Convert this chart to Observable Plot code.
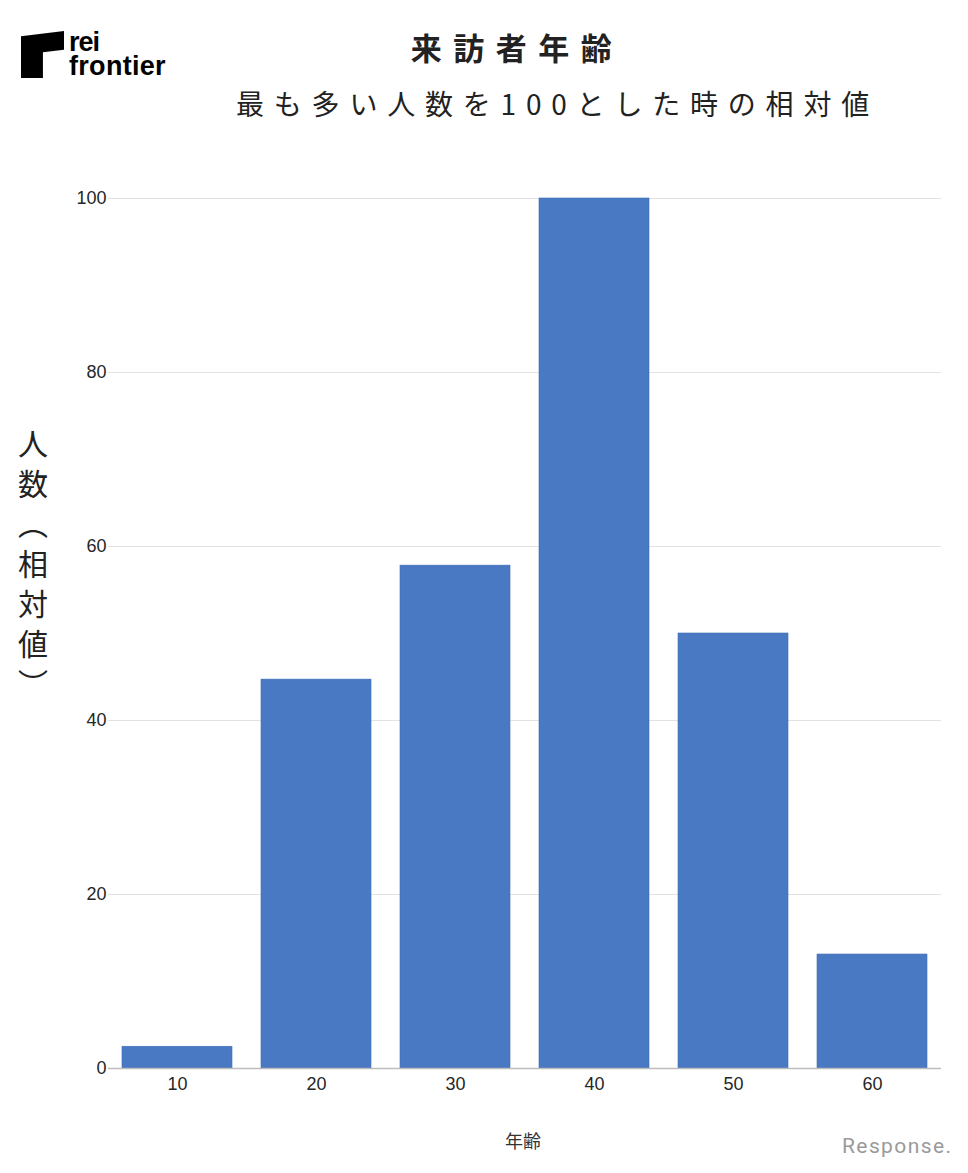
<!DOCTYPE html>
<html><head><meta charset="utf-8">
<script src="https://cdn.jsdelivr.net/npm/d3@7"></script>
<script src="https://cdn.jsdelivr.net/npm/@observablehq/plot@0.6"></script>
<style>
html,body{margin:0;padding:0;background:#fff;}
#wrap{position:relative;width:968px;height:1173px;overflow:hidden;font-family:"Noto Sans CJK JP","Noto Sans",sans-serif;}
#chart{position:absolute;left:0;top:0;}
.abs{position:absolute;white-space:nowrap;}
#title{left:0;width:1034px;top:24px;text-align:center;font-size:31px;font-weight:700;letter-spacing:11.5px;color:#222;}
#subtitle{left:236px;top:83px;font-size:28px;letter-spacing:9.8px;color:#222;font-weight:400;}
#ylabel{left:11px;top:429px;writing-mode:vertical-rl;font-size:30px;letter-spacing:10px;color:#222;}
#xlabel{left:0;width:1046px;top:1127px;text-align:center;font-size:18px;color:#333;}
#logo-mark{left:21px;top:31px;width:43px;height:47px;background:#000;clip-path:polygon(0 11%,100% 0,100% 40%,51% 45%,51% 100%,0 100%);}
#logo-rei{left:69px;top:30.5px;font-family:"Liberation Sans",Arial,sans-serif;font-weight:700;font-size:27px;line-height:22px;letter-spacing:-1px;color:#000;}
#logo-fr{left:69px;top:54.5px;font-family:"Liberation Sans",Arial,sans-serif;font-weight:700;font-size:27px;line-height:22px;letter-spacing:0.3px;color:#000;}
#resp{left:842px;top:1134px;font-family:"Roboto","Liberation Sans",sans-serif;font-size:21px;color:#9a9a9a;letter-spacing:1.4px;}
</style></head>
<body><div id="wrap">
<div id="chart"></div>
<div class="abs" id="logo-mark"></div>
<div class="abs" id="logo-rei">rei</div>
<div class="abs" id="logo-fr">frontier</div>
<div class="abs" id="title">来訪者年齢</div>
<div class="abs" id="subtitle">最も多い人数を100とした時の相対値</div>
<div class="abs" id="ylabel">人数（相対値）</div>
<div class="abs" id="xlabel">年齢</div>
<div class="abs" id="resp">Response.</div>
</div>
<script>
const ages = ["10", "20", "30", "40", "50", "60"];
const values = [2.5, 44.7, 57.8, 100, 50, 13.1];
const yTicks = [0, 20, 40, 60, 80, 100];
const data = ages.map((a, i) => ({age: a, value: values[i]}));

const chart = Plot.plot({
  width: 968,
  height: 1173,
  marginLeft: 108,
  marginRight: 27,
  marginTop: 198,
  marginBottom: 105,
  style: {fontFamily: "'Liberation Sans', Arial, sans-serif", fontSize: "18px", color: "#262626", background: "transparent"},
  x: {domain: ages, paddingInner: 0.21, paddingOuter: 0.1, label: null},
  y: {domain: [0, 100], label: null},
  marks: [
    Plot.gridY(yTicks, {stroke: "#e2e2e2", strokeOpacity: 1}),
    Plot.axisY(yTicks, {tickSize: 0, tickPadding: 2, fontSize: 18, label: null}),
    Plot.axisX({tickSize: 0, tickPadding: 9, fontSize: 18, label: null}),
    Plot.barY(data, {x: "age", y: "value", fill: "#4a79c4", stroke: "#3f6db5", strokeWidth: 0.6}),
    Plot.ruleY([0], {stroke: "#bdbdbd", strokeWidth: 1.5})
  ]
});
document.getElementById("chart").appendChild(chart);
</script>
</body></html>
